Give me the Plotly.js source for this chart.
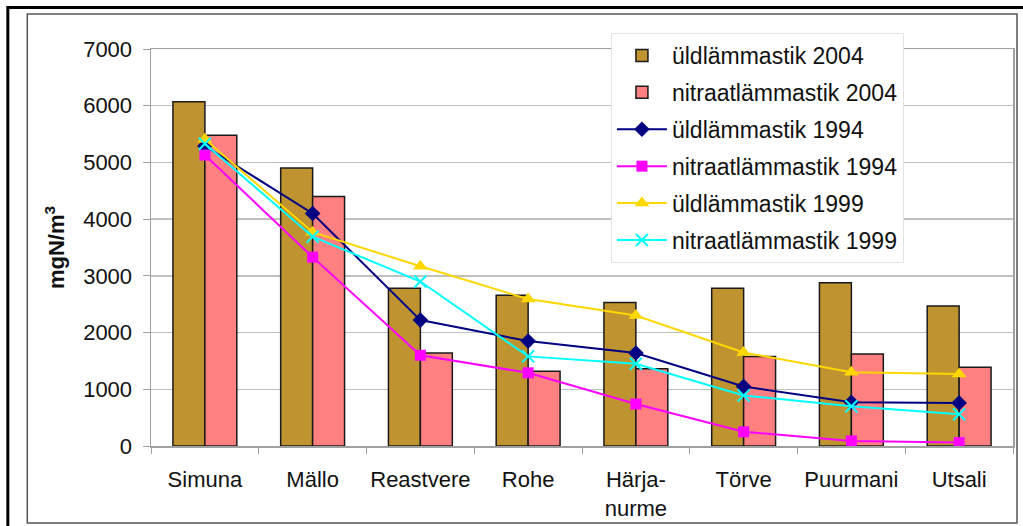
<!DOCTYPE html>
<html>
<head>
<meta charset="utf-8">
<script src="https://cdn.plot.ly/plotly-3.0.1.min.js"></script>
<style>
  html, body { margin: 0; padding: 0; background: #ffffff; }
  #chart { width: 1023px; height: 526px; }
</style>
</head>
<body>
<div id="chart"></div>
<script>
const categories = ["Simuna", "Mällo", "Reastvere", "Rohe", "Härja-<br>nurme", "Törve", "Puurmani", "Utsali"];
const uld2004 = [6070, 4900, 2780, 2660, 2530, 2780, 2880, 2470];
const nitr2004 = [5480, 4400, 1640, 1320, 1360, 1580, 1620, 1390];
const uld1994 = [5290, 4100, 2220, 1850, 1640, 1050, 770, 760];
const nitr1994 = [5130, 3330, 1600, 1290, 740, 250, 90, 60];
const uld1999 = [5410, 3770, 3170, 2590, 2300, 1650, 1300, 1270];
const nitr1999 = [5330, 3690, 2900, 1580, 1450, 890, 700, 560];
const yTicks = [0, 1000, 2000, 3000, 4000, 5000, 6000, 7000];
const seriesNames = ["üldlämmastik 2004", "nitraatlämmastik 2004", "üldlämmastik 1994",
                     "nitraatlämmastik 1994", "üldlämmastik 1999", "nitraatlämmastik 1999"];

const FONT = "Liberation Sans, Arial, Helvetica, sans-serif";

const traces = [
  { type: "bar", name: seriesNames[0], x: categories, y: uld2004, legendgroup: "a",
    marker: { color: "#BF9330", line: { color: "#1a1a1a", width: 1.5 } } },
  { type: "bar", name: seriesNames[1], x: categories, y: nitr2004, legendgroup: "b",
    marker: { color: "#FF8080", line: { color: "#1a1a1a", width: 1.5 } } },
  { type: "scatter", mode: "lines+markers", name: seriesNames[2], x: categories, y: uld1994, legendgroup: "c",
    line: { color: "#000080", width: 2 }, marker: { symbol: "diamond", size: 12, color: "#000080" } },
  { type: "scatter", mode: "lines+markers", name: seriesNames[3], x: categories, y: nitr1994, legendgroup: "d",
    line: { color: "#FF00FF", width: 2 }, marker: { symbol: "square", size: 11, color: "#FF00FF" } },
  { type: "scatter", mode: "lines+markers", name: seriesNames[4], x: categories, y: uld1999, legendgroup: "e",
    line: { color: "#FFD700", width: 2 }, marker: { symbol: "triangle-up", size: 13, color: "#FFD700" } },
  { type: "scatter", mode: "lines+markers", name: seriesNames[5], x: categories, y: nitr1999, legendgroup: "f",
    line: { color: "#00FFFF", width: 2 }, marker: { symbol: "x-thin", size: 12, color: "#00FFFF", line: { color: "#00FFFF", width: 2 } } }
];

const px = v => (v - 151) / 864;
const py = v => (446 - v) / 397;

const layout = {
  width: 1023, height: 526,
  margin: { l: 151, r: 8, t: 49, b: 80 },
  paper_bgcolor: "#ffffff", plot_bgcolor: "#ffffff",
  font: { family: FONT, size: 21, color: "#111111" },
  barmode: "group", bargap: 0.407, bargroupgap: 0,
  showlegend: true,
  legend: {
    x: px(612), y: py(33), xanchor: "left", yanchor: "top",
    bgcolor: "#ffffff", bordercolor: "#e2e2e2", borderwidth: 1,
    font: { family: FONT, size: 23, color: "#111111" },
    traceorder: "grouped", tracegroupgap: 4, itemwidth: 50
  },
  xaxis: {
    type: "category", tickson: "boundaries", ticks: "outside", ticklen: 6, tickcolor: "#a0a0a0",
    showline: true, linecolor: "#a0a0a0", linewidth: 1.5, mirror: true,
    showgrid: false, ticklabelstandoff: 13, tickangle: 0,
    tickfont: { family: FONT, size: 22, color: "#111111" }
  },
  yaxis: {
    range: [0, 7000], tickvals: yTicks, ticks: "outside", ticklen: 7, tickcolor: "#a0a0a0",
    showline: true, linecolor: "#a0a0a0", linewidth: 1.5, mirror: true,
    showgrid: true, gridcolor: "#c0c0c0", gridwidth: 1.5, zeroline: false,
    ticklabelstandoff: 6,
    tickfont: { family: FONT, size: 22, color: "#111111" },
    title: { text: "<b>mgN/m<sup>3</sup></b>", standoff: 12, font: { family: FONT, size: 22, color: "#111111" } },
    automargin: true
  },
  shapes: [
    { type: "rect", xref: "paper", yref: "paper", x0: px(27), x1: px(1019), y0: py(523), y1: py(14),
      line: { color: "#555555", width: 1.5 }, fillcolor: "rgba(0,0,0,0)", layer: "below" },
    { type: "rect", xref: "paper", yref: "paper", x0: px(7.5), x1: px(1035), y0: py(545), y1: py(7.5),
      line: { color: "#000000", width: 3 }, fillcolor: "rgba(0,0,0,0)", layer: "below" }
  ]
};

Plotly.newPlot("chart", traces, layout, { displayModeBar: false, staticPlot: true });
</script>
</body>
</html>
